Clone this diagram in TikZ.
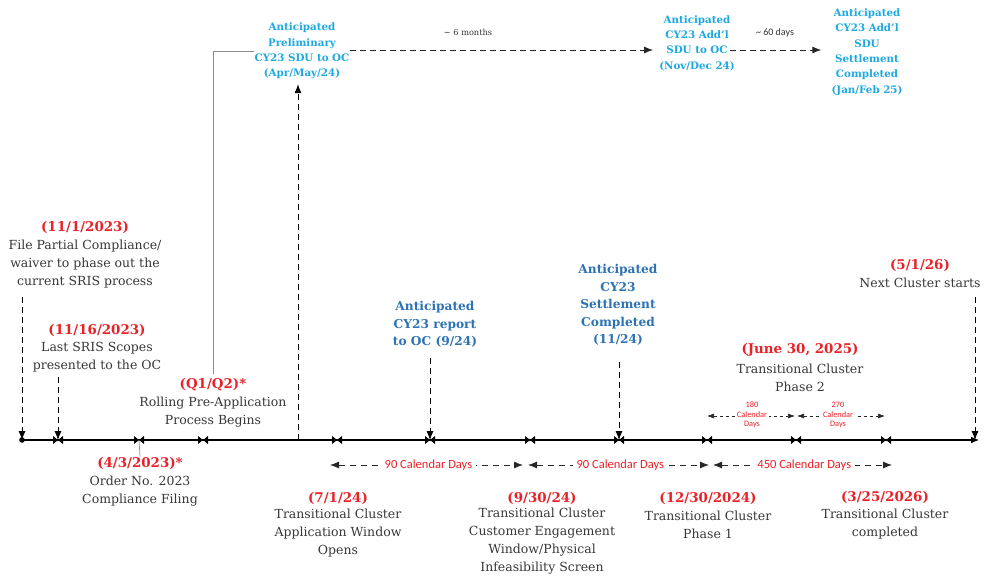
\documentclass[tikz,border=0pt]{standalone}
\usepackage{fontspec}
\setmainfont{DejaVu Serif}
\newfontfamily\calib{Carlito}
\usetikzlibrary{arrows.meta}
\definecolor{datered}{RGB}{232,34,40}
\definecolor{lblue}{RGB}{30,168,226}
\definecolor{dblue}{RGB}{44,114,180}
\definecolor{txtgray}{RGB}{55,55,55}
\begin{document}
\begin{tikzpicture}[x=1pt,y=-1pt,
  txt/.style={align=center, text=txtgray, font=\fontsize{12.5}{18}\selectfont, inner sep=0pt},
  datelbl/.style={text=datered, font=\fontsize{13.4}{16}\selectfont\bfseries, inner sep=0pt},
  topblue/.style={align=center, text=lblue, font=\fontsize{10.3}{15.3}\selectfont\bfseries, inner sep=0pt},
  midblue/.style={align=center, text=dblue, font=\fontsize{12.2}{17.5}\selectfont\bfseries, inner sep=0pt},
  vdash/.style={draw=black, line width=0.8pt, dash pattern=on 6pt off 4pt, -{Latex[length=9pt,width=7pt]}},
  topdash/.style={draw=black!85, line width=0.9pt, dash pattern=on 6pt off 4pt, -{Latex[length=9pt,width=7pt]}},
  rangearr/.style={draw=black!85, line width=0.8pt, dash pattern=on 6pt off 5pt, {Latex[length=9pt,width=7pt]}-{Latex[length=9pt,width=7pt]}},
  smallrange/.style={draw=black!85, line width=0.6pt, dash pattern=on 3pt off 3pt, {Latex[length=7pt,width=5pt]}-{Latex[length=7pt,width=5pt]}},
  rangelbl/.style={fill=white, text=datered, font=\calib\fontsize{12.5}{14}\selectfont, inner xsep=4pt, inner ysep=1pt},
  smalllbl/.style={fill=white, align=center, text=datered, font=\calib\fontsize{8.3}{9.5}\selectfont, inner xsep=2pt, inner ysep=0pt},
  notelbl/.style={text=black!80, inner sep=0pt},
  guide/.style={draw=black!45, line width=0.7pt},
  bowtie/.pic={\fill[black] (-5,-4) -- (0,0) -- (-5,4) -- cycle;
               \fill[black] (5,-4) -- (0,0) -- (5,4) -- cycle;}
]
\useasboundingbox (0,0) rectangle (992,577);

% axis
\coordinate (a0) at (22,440);
\coordinate (aend) at (979,440);
\coordinate (m58) at (58,440);
\coordinate (m139) at (139,440);
\coordinate (m203) at (203,440);
\coordinate (m298) at (298,440);
\coordinate (m337) at (337,440);
\coordinate (m430) at (430,440);
\coordinate (m530) at (530,440);
\coordinate (m619) at (619,440);
\coordinate (m707) at (707,440);
\coordinate (m796) at (796,440);
\coordinate (m886) at (886,440);
\coordinate (m975) at (975,440);
\draw[line width=1.1pt, -{Latex[length=8pt,width=7pt]}] (a0) -- (aend);
\fill (a0) circle (2.8);
\foreach \m in {m58,m139,m203,m337,m430,m530,m619,m707,m796,m886}
  \pic at (\m) {bowtie};

% labels with dates
\node[datelbl] (d1) at (85,227) {(11/1/2023)};
\node[txt] (t1) at (85,264.5) {File Partial Compliance/\\waiver to phase out the\\current SRIS process};
\node[datelbl] (d2) at (97,330) {(11/16/2023)};
\node[txt] (t2) at (97,357) {Last SRIS Scopes\\presented to the OC};
\node[datelbl] (d3) at (213,385) {(Q1/Q2)*};
\node[txt] (t3) at (213,412.5) {Rolling Pre-Application\\Process Begins};
\node[datelbl] (d4) at (140,463) {(4/3/2023)*};
\node[txt] (t4) at (140,491) {Order No. 2023\\Compliance Filing};
\node[datelbl] (d5) at (338,498) {(7/1/24)};
\node[txt] (t5) at (338,533.5) {Transitional Cluster\\Application Window\\Opens};
\node[datelbl] (d6) at (542,498) {(9/30/24)};
\node[txt] (t6) at (542,541.5) {Transitional Cluster\\Customer Engagement\\Window/Physical\\Infeasibility Screen};
\node[datelbl] (d7) at (708,498) {(12/30/2024)};
\node[txt] (t7) at (708,524.5) {Transitional Cluster\\Phase 1};
\node[datelbl] (d8) at (885,497) {(3/25/2026)};
\node[txt] (t8) at (885,524) {Transitional Cluster\\completed};
\node[datelbl] (d9) at (800,350) {(June 30, 2025)};
\node[txt] (t9) at (800,377.5) {Transitional Cluster\\Phase 2};
\node[datelbl] (d10) at (920,265) {(5/1/26)};
\node[txt] (t10) at (920,283) {Next Cluster starts};

% blue labels
\node[topblue] (b1) at (302,51) {Anticipated\\Preliminary\\CY23 SDU to OC\\(Apr/May/24)};
\node[topblue] (b2) at (697,43) {Anticipated\\CY23 Add'l\\SDU to OC\\(Nov/Dec 24)};
\node[topblue] (b3) at (867,52) {Anticipated\\CY23 Add'l\\SDU\\Settlement\\Completed\\(Jan/Feb 25)};
\node[midblue] (b4) at (435,324.5) {Anticipated\\CY23 report\\to OC (9/24)};
\node[midblue] (b5) at (618,305) {Anticipated\\CY23\\Settlement\\Completed\\(11/24)};

% top arrows
\coordinate (topy) at (0,50);
\draw[topdash, shorten >=6pt] (b1.east |- topy) -- (b2.west |- topy);
\draw[topdash, shorten <=-5pt, shorten >=10pt] (b2.east |- topy) -- (b3.west |- topy);
\node[notelbl, font=\fontsize{8.2}{10}\selectfont] (n6m) at (468,32) {\textasciitilde\ 6 months};
\node[notelbl, font=\calib\fontsize{10}{12}\selectfont] (n60d) at (775,33) {\textasciitilde\ 60 days};

% vertical connectors
\draw[vdash, shorten <=8pt] (t1.south -| a0) -- (a0);
\draw[vdash, shorten <=5pt] (t2.south -| m58) -- (m58);
\draw[vdash, shorten >=5pt] (m298) -- (b1.south -| m298);
\draw[vdash, shorten <=10pt] (b4.south -| m430) -- (m430);
\draw[vdash, shorten <=16pt] (b5.south -| m619) -- (m619);
\draw[vdash, shorten <=9pt] (t10.south -| m975) -- (m975);

% gray guides
\draw[guide, shorten <=5pt] (d3.north) |- (b1.west);
\draw[guide] (m139) -- (d4.north);

% range arrows
\coordinate (r1a) at (330,465);
\coordinate (r1b) at (523,465);
\coordinate (r2a) at (528,465);
\coordinate (r2b) at (709,465);
\coordinate (r3a) at (713,465);
\coordinate (r3b) at (892,465);
\draw[rangearr] (r1a) -- (r1b) node[rangelbl, pos=0.51] (l90a) {90 Calendar Days};
\draw[rangearr] (r2a) -- (r2b) node[rangelbl, pos=0.51] (l90b) {90 Calendar Days};
\draw[rangearr] (r3a) -- (r3b) node[rangelbl, pos=0.51] (l450) {450 Calendar Days};

\coordinate (s1a) at (707,416);
\coordinate (s1b) at (795,416);
\coordinate (s2a) at (797,416);
\coordinate (s2b) at (885,416);
\draw[smallrange] (s1a) -- (s1b);
\draw[smallrange] (s2a) -- (s2b);
\node[smalllbl] (l180) at (752,415) {180\\Calendar\\Days};
\node[smalllbl] (l270) at (838,415) {270\\Calendar\\Days};
\end{tikzpicture}
\end{document}
